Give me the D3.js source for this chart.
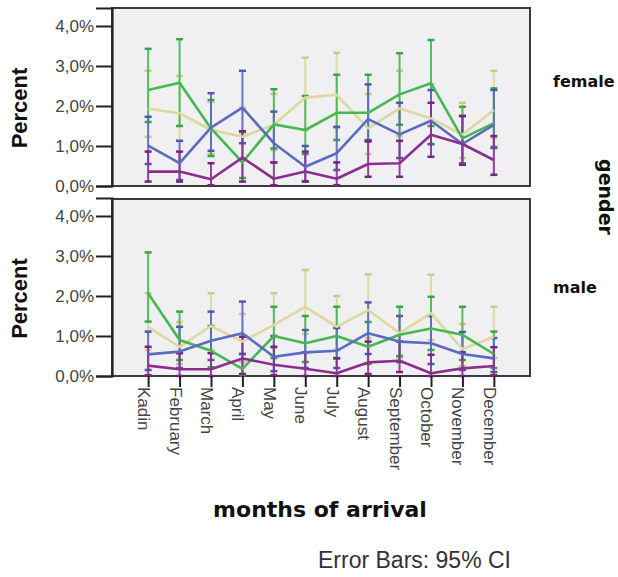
<!DOCTYPE html>
<html><head><meta charset="utf-8">
<script src="https://cdn.jsdelivr.net/npm/d3@7"></script>
<style>html,body{margin:0;padding:0;background:#fff;}</style>
</head><body>
<div id="chart"></div>
<script>
const months = ["Kadin","February","March","April","May","June","July","August","September","October","November","December"];
const yTicks = [0,1,2,3,4];
const seriesNames = ["s1","s2","s3","s4"];
const panels = ["female","male"];

// female panel (percent)
const femGreenMean = [2.40,2.58,1.44,0.59,1.54,1.40,1.83,1.83,2.29,2.57,1.19,1.57];
const femGreenHi   = [3.43,3.67,2.15,1.35,2.42,2.25,2.78,2.78,3.32,3.65,1.98,2.44];
const femGreenLo   = [1.60,1.50,0.75,0.20,0.94,0.80,1.15,1.15,1.53,1.50,0.57,0.98];
const femBeigeMean = [1.93,1.82,1.40,1.23,1.53,2.21,2.28,1.44,1.94,1.69,1.28,1.90];
const femBeigeHi   = [2.88,2.75,2.10,1.95,2.30,3.21,3.33,2.30,2.88,2.55,2.08,2.88];
const femBeigeLo   = [1.23,1.13,0.80,0.65,0.90,1.40,1.45,0.80,1.25,1.03,0.70,1.20];
const femBlueMean  = [1.01,0.57,1.46,1.96,1.07,0.48,0.82,1.67,1.29,1.63,1.05,1.53];
const femBlueHi    = [1.73,1.13,2.32,2.88,1.86,1.00,1.48,2.54,2.08,2.40,1.75,2.40];
const femBlueLo    = [0.55,0.15,0.88,1.07,0.59,0.12,0.40,1.11,0.70,1.05,0.55,0.95];
const femPurpMean  = [0.36,0.36,0.17,0.71,0.18,0.36,0.18,0.55,0.57,1.28,1.05,0.65];
const femPurpHi    = [0.86,0.86,0.57,1.37,0.59,0.86,0.59,1.13,1.13,2.08,1.75,1.25];
const femPurpLo    = [0.11,0.11,0.02,0.11,0.02,0.11,0.02,0.23,0.23,0.73,0.53,0.28];

// male panel (percent)
const malGreenMean = [2.07,0.90,0.63,0.18,1.00,0.82,1.00,0.73,1.03,1.19,1.03,0.55];
const malGreenHi   = [3.09,1.61,1.25,0.55,1.73,1.50,1.73,1.35,1.73,1.98,1.73,1.11];
const malGreenLo   = [1.36,0.40,0.22,0.02,0.45,0.35,0.45,0.30,0.50,0.65,0.40,0.20];
const malBeigeMean = [1.23,0.73,1.25,0.86,1.28,1.73,1.23,1.65,1.07,1.57,0.67,0.98];
const malBeigeHi   = [2.07,1.35,2.07,1.55,2.07,2.65,2.00,2.54,1.73,2.53,1.30,1.73];
const malBeigeLo   = [0.65,0.30,0.65,0.35,0.70,1.05,0.65,0.95,0.45,0.90,0.25,0.45];
const malBlueMean  = [0.54,0.61,0.88,1.07,0.48,0.59,0.63,1.07,0.86,0.82,0.55,0.44];
const malBlueHi    = [1.11,1.23,1.61,1.86,1.00,1.15,1.20,1.84,1.50,1.50,1.10,0.95];
const malBlueLo    = [0.15,0.20,0.40,0.55,0.12,0.20,0.20,0.55,0.35,0.30,0.15,0.10];
const malPurpMean  = [0.26,0.17,0.17,0.44,0.28,0.18,0.07,0.34,0.38,0.07,0.19,0.25];
const malPurpHi    = [0.73,0.57,0.57,0.98,0.73,0.59,0.44,0.86,0.86,0.53,0.59,0.72];
const malPurpLo    = [0.02,0.00,0.00,0.05,0.02,0.00,0.00,0.05,0.10,0.00,0.00,0.02];

const colors = {green:"#46b851", beige:"#dcd89e", blue:"#5a6bc2", purple:"#8b2f8f"};
const capColors = {green:"#36a843", beige:"#cfca88", blue:"#4a5ab4", purple:"#7a2280"};

const panelData = [
  {name:"female", top:8, bottom:186, series:[
    {c:"beige", mean:femBeigeMean, hi:femBeigeHi, lo:femBeigeLo},
    {c:"green", mean:femGreenMean, hi:femGreenHi, lo:femGreenLo},
    {c:"blue", mean:femBlueMean, hi:femBlueHi, lo:femBlueLo},
    {c:"purple", mean:femPurpMean, hi:femPurpHi, lo:femPurpLo}]},
  {name:"male", top:199, bottom:376, series:[
    {c:"beige", mean:malBeigeMean, hi:malBeigeHi, lo:malBeigeLo},
    {c:"green", mean:malGreenMean, hi:malGreenHi, lo:malGreenLo},
    {c:"blue", mean:malBlueMean, hi:malBlueHi, lo:malBlueLo},
    {c:"purple", mean:malPurpMean, hi:malPurpHi, lo:malPurpLo}]}
];

const W = 618, H = 577;
const left = 112, right = 530;
const svg = d3.select("#chart").append("svg").attr("width", W).attr("height", H)
  .style("background", "#fff");

const x = d3.scalePoint().domain(months).range([left, right]).padding(1.15);
const fmt = d => d.toFixed(1).replace(".", ",") + "%";

panelData.forEach((p, pi) => {
  const y = d3.scaleLinear().domain([0, 4.45]).range([p.bottom, p.bottom - 4.45 * 40]);
  const g = svg.append("g");
  g.append("rect").attr("x", left).attr("y", p.top).attr("width", right - left)
    .attr("height", p.bottom - p.top).attr("fill", "#f0f0f2")
    .attr("stroke", "#3a3a3a").attr("stroke-width", 2);

  // y axis
  const ya = g.append("g").attr("transform", `translate(${left},0)`)
    .call(d3.axisLeft(y).tickValues(yTicks).tickFormat(fmt).tickSize(16).tickPadding(2));
  ya.select(".domain").attr("stroke", "#222").attr("stroke-width", 2.2);
  ya.selectAll(".tick line").attr("stroke", "#222").attr("stroke-width", 2);
  ya.selectAll(".tick text").attr("font-family", "'Liberation Sans', Arial, sans-serif")
    .attr("font-size", 17).attr("fill", "#444");

  // error bars
  p.series.forEach(s => {
    const eg = g.append("g");
    months.forEach((m, i) => {
      const cx = x(m);
      eg.append("line").attr("x1", cx).attr("x2", cx).attr("y1", y(s.lo[i])).attr("y2", y(s.hi[i]))
        .attr("stroke", colors[s.c]).attr("stroke-width", 2).attr("opacity", 0.9);
      [s.lo[i], s.hi[i]].forEach(v => {
        eg.append("line").attr("x1", cx - 3.5).attr("x2", cx + 3.5).attr("y1", y(v)).attr("y2", y(v))
          .attr("stroke", capColors[s.c]).attr("stroke-width", 2.5);
      });
    });
  });
  // lines
  p.series.forEach(s => {
    g.append("path").datum(s.mean)
      .attr("d", d3.line().x((d, i) => x(months[i])).y(d => y(d)))
      .attr("fill", "none").attr("stroke", colors[s.c]).attr("stroke-width", 2.6)
      .attr("stroke-linejoin", "round");
  });

  // Percent label
  svg.append("text").attr("transform", `translate(27,${(p.top + p.bottom) / 2 + 11}) rotate(-90)`)
    .attr("text-anchor", "middle").attr("font-family", "'Liberation Sans', Arial, sans-serif")
    .attr("font-weight", "bold").attr("font-size", 22).attr("fill", "#111").text("Percent");

  // panel label
  svg.append("text").attr("x", 553).attr("y", pi === 0 ? 87 : 293)
    .attr("font-family", "'DejaVu Sans', sans-serif").attr("font-weight", "bold")
    .attr("font-size", 16).attr("fill", "#111").text(p.name);
});

// x axis
const xa = svg.append("g").attr("transform", "translate(0,376)")
  .call(d3.axisBottom(x).tickSize(11).tickSizeOuter(0));
xa.select(".domain").remove();
xa.selectAll(".tick line").attr("stroke", "#222").attr("stroke-width", 2);
xa.selectAll(".tick text")
  .attr("font-family", "'Liberation Sans', Arial, sans-serif").attr("font-size", 17)
  .attr("fill", "#444").attr("text-anchor", "start")
  .attr("transform", "translate(0,11) rotate(90)")
  .attr("x", 0).attr("y", 0).attr("dy", "0.62em");

svg.append("text").attr("x", 320).attr("y", 517).attr("text-anchor", "middle")
  .attr("font-family", "'DejaVu Sans', sans-serif").attr("font-weight", "bold")
  .attr("font-size", 22).attr("fill", "#111").text("months of arrival");

svg.append("text").attr("transform", "translate(599,197) rotate(90)").attr("text-anchor", "middle")
  .attr("font-family", "'DejaVu Sans', sans-serif").attr("font-weight", "bold")
  .attr("font-size", 19).attr("fill", "#111").text("gender");

svg.append("text").attr("x", 318).attr("y", 568)
  .attr("font-family", "'Liberation Sans', Arial, sans-serif")
  .attr("font-size", 23).attr("fill", "#333").text("Error Bars: 95% CI");
</script>
</body></html>
